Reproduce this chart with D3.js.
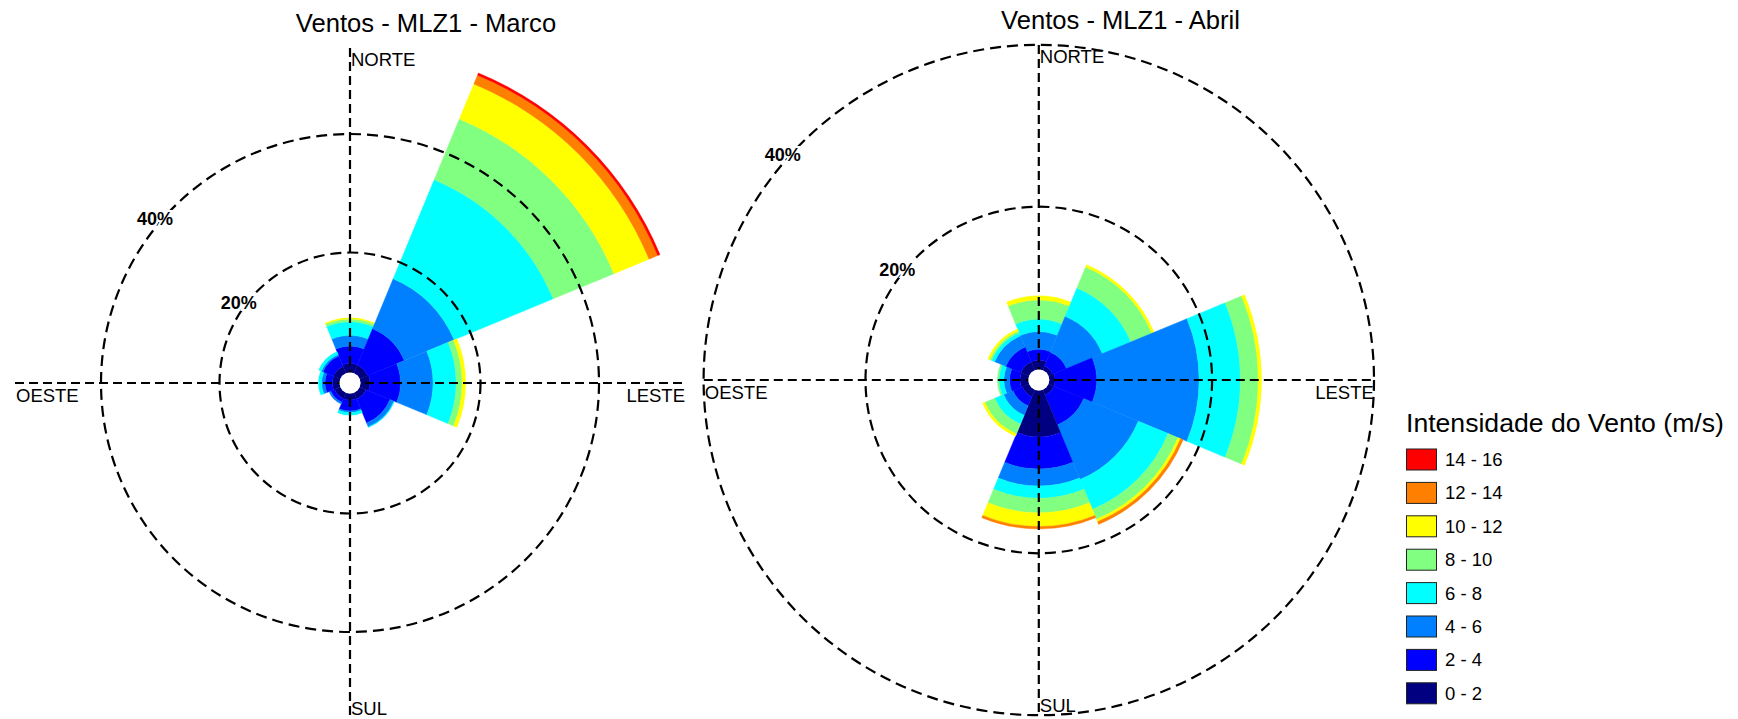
<!DOCTYPE html>
<html><head><meta charset="utf-8">
<script src="https://cdn.jsdelivr.net/npm/d3@7/dist/d3.min.js"></script>
<style>
body{margin:0;background:#fff}
svg{display:block}
text{font-family:Arial,"Liberation Sans",sans-serif;fill:#000}
</style>
</head><body>
<svg id="chart" width="1738" height="719"></svg>
<script>
// ---------- DATA ----------
const directions = ["N","NE","E","SE","S","SW","W","NW"];
const speedClasses = ["0 - 2","2 - 4","4 - 6","6 - 8","8 - 10","10 - 12","12 - 14","14 - 16"];
const classColors = ["#000080","#0000ff","#0080ff","#00ffff","#80ff80","#ffff00","#ff8000","#ff0000"];
const gridTicks = [20, 40];
const compassLabels = ["NORTE","LESTE","SUL","OESTE"];
const legendTitle = "Intensidade do Vento (m/s)";

// Frequency (%) by speed class, one value per direction (N, NE, E, SE, S, SW, W, NW)
// Marco
const marco_0_2   = [1.30, 1.20, 1.35, 0.90, 0.85, 0.80, 0.95, 1.00];
const marco_2_4   = [2.90, 6.70, 5.15, 4.40, 1.85, 0.70, 1.25, 1.90];
const marco_4_6   = [1.80, 9.10, 5.50, 0.70, 0.25, 0.30, 0.55, 0.30];
const marco_6_8   = [2.30, 18.10, 3.90, 0.10, 0.45, 0.00, 0.55, 0.50];
const marco_8_10  = [0.45, 11.10, 1.00, 0.00, 0.00, 0.00, 0.00, 0.00];
const marco_10_12 = [0.20, 6.40, 0.60, 0.00, 0.00, 0.00, 0.00, 0.00];
const marco_12_14 = [0.00, 1.60, 0.00, 0.00, 0.00, 0.00, 0.00, 0.00];
const marco_14_16 = [0.00, 0.40, 0.00, 0.00, 0.00, 0.00, 0.00, 0.00];
// Abril
const abril_0_2   = [1.06, 0.45, 0.60, 0.60, 5.60, 0.80, 0.90, 1.00];
const abril_2_4   = [1.32, 1.85, 5.14, 4.00, 4.00, 1.25, 1.30, 2.00];
const abril_4_6   = [2.18, 4.80, 12.66, 7.30, 2.10, 1.25, 0.70, 1.50];
const abril_6_8   = [1.53, 3.80, 5.10, 4.00, 1.50, 1.20, 0.60, 0.40];
const abril_8_10  = [2.38, 2.80, 2.20, 1.30, 1.80, 1.30, 0.20, 0.25];
const abril_10_12 = [0.53, 0.30, 0.40, 0.35, 1.70, 0.30, 0.00, 0.25];
const abril_12_14 = [0.00, 0.00, 0.00, 0.35, 0.30, 0.00, 0.00, 0.00];
const abril_14_16 = [0.00, 0.00, 0.00, 0.00, 0.00, 0.00, 0.00, 0.00];

const marcoSeries = [marco_0_2, marco_2_4, marco_4_6, marco_6_8, marco_8_10, marco_10_12, marco_12_14, marco_14_16];
const abrilSeries = [abril_0_2, abril_2_4, abril_4_6, abril_6_8, abril_8_10, abril_10_12, abril_12_14, abril_14_16];

// ---------- LAYOUT ----------
const svg = d3.select("#chart");
const AXIS_HALF = 335;   // length of the compass axes from centre
const HOLE_R = 10.5;

const charts = [
  {title: "Ventos - MLZ1 - Marco", series: marcoSeries, cx: 350, cy: 383, r0: 12, r40: 249, titleX: 426, titleY: 31.5},
  {title: "Ventos - MLZ1 - Abril", series: abrilSeries, cx: 1038.8, cy: 380, r0: 11.4, r40: 335.2, titleX: 1120.5, titleY: 29}
];

const angle = d3.scaleLinear().domain([0, directions.length]).range([0, 2 * Math.PI]);

charts.forEach(c => {
  const r = d3.scaleLinear().domain([0, 40]).range([c.r0, c.r40]);
  const g = svg.append("g").attr("transform", `translate(${c.cx},${c.cy})`);

  // build stacked segments
  const segs = [];
  directions.forEach((d, i) => {
    let cum = 0;
    c.series.forEach((vals, k) => {
      const v = vals[i];
      const start = cum;
      cum += v;
      if (v > 0) segs.push({dir: i, cls: k, y0: start, y1: cum});
    });
  });

  const arc = d3.arc()
    .innerRadius(s => s.cls === 0 ? HOLE_R : r(s.y0))
    .outerRadius(s => r(s.y1))
    .startAngle(s => angle(s.dir - 0.5))
    .endAngle(s => angle(s.dir + 0.5));

  g.selectAll("path.seg").data(segs).join("path")
    .attr("class", "seg")
    .attr("d", arc)
    .attr("fill", s => classColors[s.cls])
    .attr("stroke", s => classColors[s.cls])
    .attr("stroke-width", 0.4);

  // grid circles
  g.selectAll("circle.grid").data(gridTicks).join("circle")
    .attr("class", "grid")
    .attr("r", t => r(t))
    .attr("fill", "none")
    .attr("stroke", "#000")
    .attr("stroke-width", 2.2)
    .attr("stroke-dasharray", "11,6");

  // axes
  g.append("line").attr("x1", -AXIS_HALF).attr("x2", AXIS_HALF).attr("y1", 0).attr("y2", 0)
    .attr("stroke", "#000").attr("stroke-width", 2.2).attr("stroke-dasharray", "9,5");
  g.append("line").attr("x1", 0).attr("x2", 0).attr("y1", -AXIS_HALF).attr("y2", AXIS_HALF)
    .attr("stroke", "#000").attr("stroke-width", 2.2).attr("stroke-dasharray", "9,5");

  // centre hole
  g.append("circle").attr("r", HOLE_R).attr("fill", "#fff");

  // percentage labels
  g.selectAll("text.pct").data(gridTicks).join("text")
    .attr("class", "pct")
    .attr("x", t => -r(t) * Math.SQRT1_2 - 1)
    .attr("y", t => -r(t) * Math.SQRT1_2 + 18.5)
    .attr("text-anchor", "end")
    .attr("font-size", 18)
    .attr("font-weight", "bold")
    .attr("stroke", "#fff").attr("stroke-width", 4).attr("paint-order", "stroke")
    .text(t => t + "%");

  // compass labels
  g.append("text").attr("x", 1).attr("y", -AXIS_HALF + 18).attr("font-size", 18.5).text(compassLabels[0]);
  g.append("text").attr("x", AXIS_HALF).attr("y", 18.5).attr("text-anchor", "end").attr("font-size", 18.5).text(compassLabels[1]);
  g.append("text").attr("x", 1).attr("y", AXIS_HALF - 3).attr("font-size", 18.5).text(compassLabels[2]);
  g.append("text").attr("x", -AXIS_HALF + 1).attr("y", 18.5).attr("font-size", 18.5).text(compassLabels[3]);

  // title
  svg.append("text").attr("x", c.titleX).attr("y", c.titleY).attr("text-anchor", "middle")
    .attr("font-size", 25.6).text(c.title);
});

// ---------- LEGEND ----------
const legend = svg.append("g").attr("transform", "translate(1406,0)");
legend.append("text").attr("x", 0).attr("y", 432).attr("font-size", 26.6).text(legendTitle);
const legendItems = speedClasses.map((s, k) => ({label: s, color: classColors[k]})).reverse();
const ly = d3.scaleLinear().domain([0, 1]).range([448.5, 481.9]);
const li = legend.selectAll("g.item").data(legendItems).join("g").attr("class", "item")
  .attr("transform", (d, i) => `translate(0,${ly(i)})`);
li.append("rect").attr("x", 0.5).attr("y", 0.5).attr("width", 30).attr("height", 21)
  .attr("fill", d => d.color).attr("stroke", "#222").attr("stroke-width", 1);
li.append("text").attr("x", 39).attr("y", 11).attr("dominant-baseline", "central")
  .attr("font-size", 18.5).text(d => d.label);
</script>
</body></html>
